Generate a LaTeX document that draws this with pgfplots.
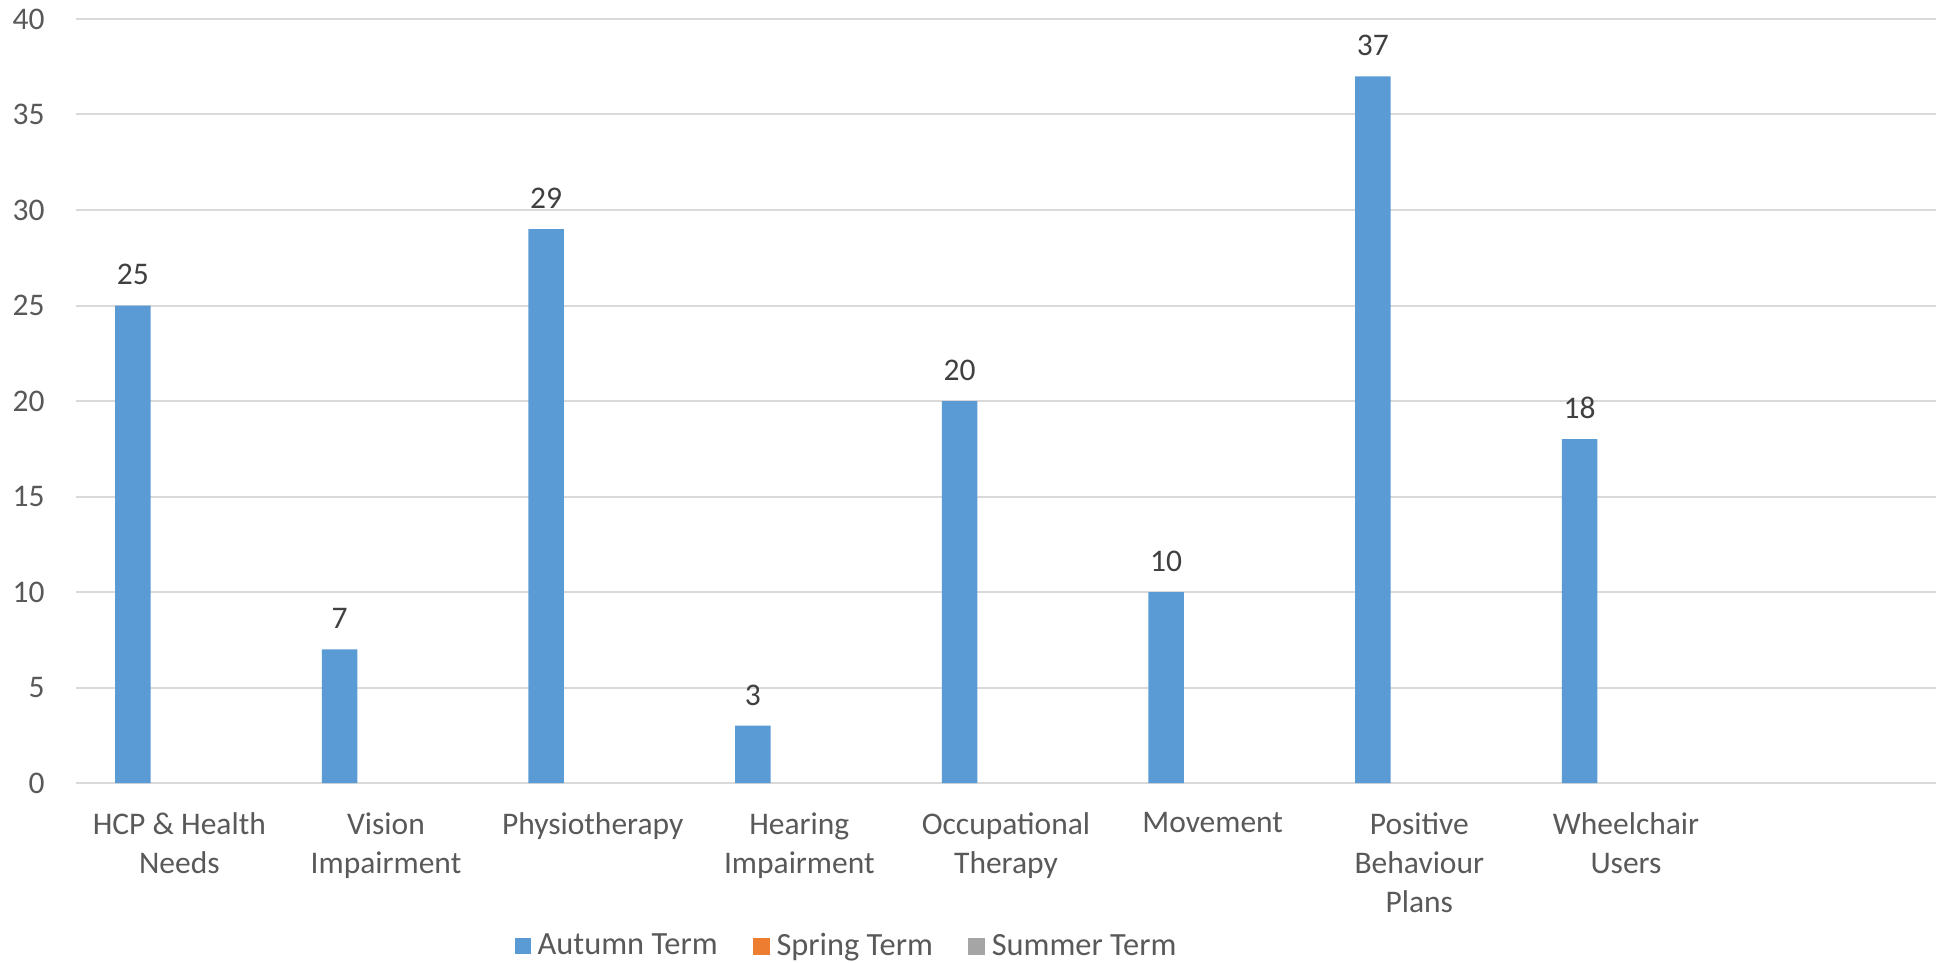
\documentclass[border=0pt]{standalone}
\usepackage{pgfplots}
\pgfplotsset{compat=1.18}
\usepackage{fontspec}
\setmainfont{Carlito}
\definecolor{autumn}{HTML}{5B9BD5}
\definecolor{spring}{HTML}{ED7D31}
\definecolor{summer}{HTML}{A5A5A5}
\definecolor{gridc}{HTML}{D9D9D9}
\definecolor{ticktext}{HTML}{595959}
\definecolor{labeltext}{HTML}{404040}
\newcommand{\chartfont}{\fontsize{15.75bp}{19.5bp}\selectfont}
\newcommand{\legendfont}{\fontsize{16.2bp}{19.5bp}\selectfont}
\begin{document}
\begin{tikzpicture}
\path[use as bounding box] (-38bp,-90bp) rectangle (930bp,391.5bp);
\begin{axis}[
  scale only axis,
  width=930bp, height=382bp,
  ybar,
  xmin=-0.5, xmax=8.5,
  ymin=0, ymax=40,
  ytick={0,5,...,40},
  xtick={0,1,2,3,4,5,6,7,8},
  xticklabels={{HCP \& Health\\Needs},{Vision\\Impairment},{Physiotherapy},{Hearing\\Impairment},{Occupational\\Therapy},{Movement},{Positive\\Behaviour\\Plans},{Wheelchair\\Users},{}},
  axis line style={draw=none},
  major tick length=0pt,
  ymajorgrids,
  major grid style={draw=gridc, line width=1bp},
  /pgf/number format/assume math mode=true,
  tick label style={font=\chartfont, text=ticktext},
  xticklabel style={align=center, anchor=north, inner sep=0pt, yshift=-14.5bp},
  yticklabel style={anchor=east, inner sep=0pt, xshift=-15.5bp},
  nodes near coords,
  every node near coord/.append style={font=\chartfont, text=labeltext, anchor=south, inner sep=0pt, yshift=10bp},
  legend columns=3,
  legend style={draw=none, fill=none, at={(0.4156,-0.2134)}, anchor=center,
    font=\legendfont, text=ticktext, inner sep=0pt,
    /tikz/every even column/.append style={column sep=14bp},
    nodes={inner sep=3.5bp}},
  legend cell align=left,
]
\addplot[fill=autumn, draw=none, bar width=17.75bp, bar shift=-23.25bp,
  legend image code/.code={\fill[autumn] (0bp,-4bp) rectangle (8bp,4bp);}]
  coordinates {(0,25) (1,7) (2,29) (3,3) (4,20) (5,10) (6,37) (7,18)};
\addlegendentry{Autumn Term}
\addlegendimage{legend image code/.code={\fill[spring] (0bp,-4bp) rectangle (8bp,4bp);}}
\addlegendentry{Spring Term}
\addlegendimage{legend image code/.code={\fill[summer] (0bp,-4bp) rectangle (8bp,4bp);}}
\addlegendentry{Summer Term}
\end{axis}
\end{tikzpicture}
\end{document}
